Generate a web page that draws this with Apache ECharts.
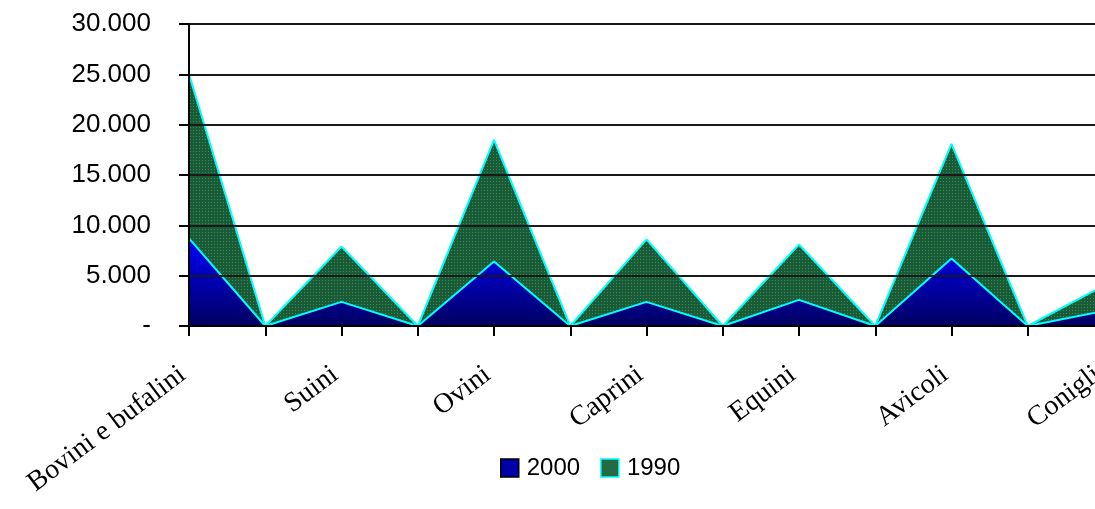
<!DOCTYPE html>
<html>
<head>
<meta charset="utf-8">
<script src="https://cdn.jsdelivr.net/npm/echarts@6/dist/echarts.min.js"></script>
<style>
  html, body { margin: 0; padding: 0; background: #fff; }
  #chart { width: 1095px; height: 509px; }
</style>
</head>
<body>
<div id="chart"></div>
<script>
// Livestock categories (blank slots sit between the named ones)
const categories = ['Bovini e bufalini', '', 'Suini', '', 'Ovini', '', 'Caprini', '', 'Equini', '', 'Avicoli', '', 'Conigli'];
// Values per category; 1990 is stacked on top of 2000
const values2000 = [8700, 0, 2400, 0, 6400, 0, 2400, 0, 2600, 0, 6700, 0, 1500];
const values1990 = [16300, 0, 5500, 0, 12100, 0, 6200, 0, 5500, 0, 11400, 0, 2500];
const yTicks = [0, 5000, 10000, 15000, 20000, 25000, 30000];

// Dotted dark-green fill for the 1990 layer
function dottedGreen() {
  const c = document.createElement('canvas');
  c.width = 3; c.height = 3;
  const g = c.getContext('2d');
  g.fillStyle = '#1b5a36';
  g.fillRect(0, 0, 3, 3);
  g.fillStyle = '#348c57';
  g.fillRect(1, 1, 1, 1);
  return c;
}

function fmtThousands(v) {
  if (v === 0) return '-';
  return String(v).replace(/\B(?=(\d{3})+(?!\d))/g, '.');
}

const sansFont = '"Liberation Sans", sans-serif';

const chart = echarts.init(document.getElementById('chart'), null, { renderer: 'canvas' });
chart.setOption({
  animation: false,
  backgroundColor: '#ffffff',
  grid: { left: 189, top: 24, width: 915, height: 302, containLabel: false, outerBoundsMode: 'none' },
  legend: {
    left: 495,
    top: 451,
    itemWidth: 18,
    itemHeight: 18,
    itemGap: 20,
    icon: 'rect',
    textStyle: { fontFamily: sansFont, fontSize: 24, color: '#000', padding: [0, 0, 0, 3] },
    data: [
      { name: '2000', itemStyle: { color: '#0000a8', borderColor: '#000', borderWidth: 1.5 } },
      { name: '1990', itemStyle: { color: '#246b45', borderColor: '#00ffff', borderWidth: 1.5 } }
    ]
  },
  xAxis: {
    type: 'category',
    data: categories,
    boundaryGap: false,
    z: 5,
    axisLine: { lineStyle: { color: '#000', width: 2 } },
    axisTick: { show: true, length: 10, interval: 0, lineStyle: { color: '#000', width: 2 } },
    axisLabel: {
      interval: 0,
      rotate: 37,
      margin: 41,
      padding: [0, 8, 0, 0],
      fontFamily: '"Liberation Serif", serif',
      fontSize: 28,
      color: '#000'
    },
    splitLine: { show: false }
  },
  yAxis: {
    type: 'value',
    min: yTicks[0],
    max: yTicks[yTicks.length - 1],
    interval: 5000,
    z: 5,
    axisLine: { show: true, lineStyle: { color: '#000', width: 2 } },
    axisTick: { show: true, length: 10, lineStyle: { color: '#000', width: 2 } },
    axisLabel: {
      margin: 38,
      fontFamily: sansFont,
      fontSize: 26,
      color: '#000',
      formatter: fmtThousands
    },
    splitLine: { show: true, lineStyle: { color: '#1a1a1a', width: 2 } }
  },
  series: [
    {
      name: '2000',
      type: 'line',
      stack: 'total',
      data: values2000,
      symbol: 'none',
      lineStyle: { color: '#00ffff', width: 2 },
      itemStyle: { color: '#0000a8' },
      areaStyle: {
        opacity: 1,
        color: new echarts.graphic.LinearGradient(0, 0, 0, 1, [
          { offset: 0, color: '#0000ff' },
          { offset: 1, color: '#000060' }
        ])
      }
    },
    {
      name: '1990',
      type: 'line',
      stack: 'total',
      data: values1990,
      symbol: 'none',
      lineStyle: { color: '#00ffff', width: 2 },
      itemStyle: { color: '#246b45' },
      areaStyle: { opacity: 1, color: { image: dottedGreen(), repeat: 'repeat' } }
    }
  ]
});
</script>
</body>
</html>
